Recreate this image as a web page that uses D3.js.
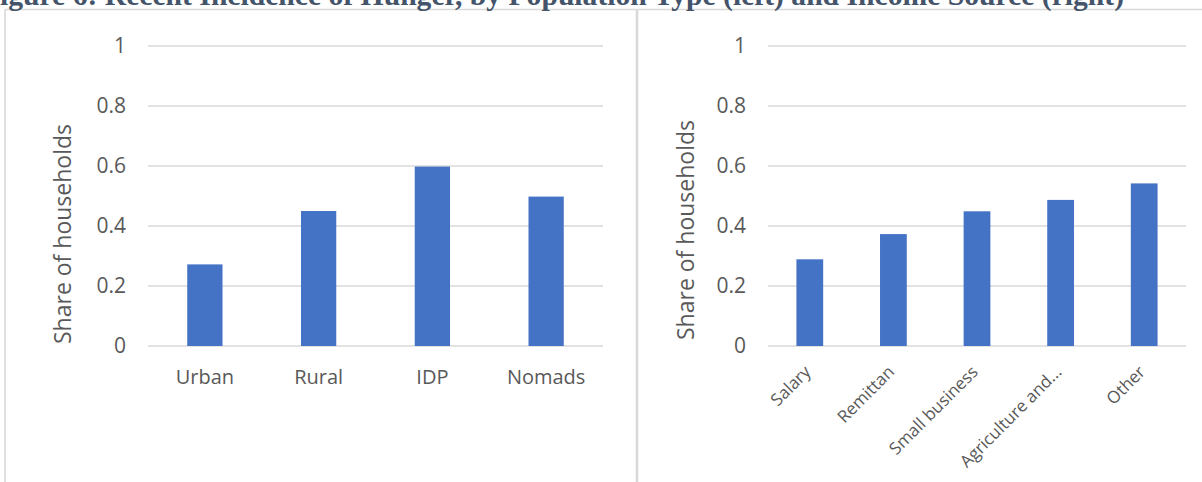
<!DOCTYPE html>
<html>
<head>
<meta charset="utf-8">
<script src="https://cdn.jsdelivr.net/npm/d3@7"></script>
<style>
  html, body { margin: 0; padding: 0; background: #ffffff; overflow: hidden; }
  svg { display: block; }
  text { font-family: "Open Sans", "Noto Sans", sans-serif; fill: #595959; }
</style>
</head>
<body>
<svg id="chart" width="1202" height="482"></svg>
<script>
// Title text
const titleText = "Figure 6: Recent Incidence of Hunger, by Population Type (left) and Income Source (right)";

// Left panel: population type
const popCategories = ["Urban", "Rural", "IDP", "Nomads"];
const popValues = [0.272, 0.45, 0.598, 0.498];

// Right panel: income source
const incomeCategories = ["Salary", "Remittan", "Small business", "Agriculture and...", "Other"];
const incomeValues = [0.289, 0.373, 0.449, 0.487, 0.542];

// Shared y axis ticks
const yTicks = [0, 0.2, 0.4, 0.6, 0.8, 1];
const yTickLabels = ["0", "0.2", "0.4", "0.6", "0.8", "1"];
const yAxisTitle = "Share of households";

const svg = d3.select("#chart");
const BAR = "#4472C4";
const GRID = "#d9d9d9";
const FRAME = "#d9d9d9";

// Frames around the two chart boxes
svg.append("line").attr("x1", 5).attr("x2", 1202).attr("y1", 9.5).attr("y2", 9.5)
  .attr("stroke", FRAME).attr("stroke-width", 1.6);
svg.append("line").attr("x1", 5).attr("x2", 5).attr("y1", 9.5).attr("y2", 482)
  .attr("stroke", FRAME).attr("stroke-width", 1.6);
svg.append("line").attr("x1", 637).attr("x2", 637).attr("y1", 9.5).attr("y2", 482)
  .attr("stroke", FRAME).attr("stroke-width", 2.6);

// Title, running off the left edge of the page
const title = svg.append("text")
  .attr("y", 5)
  .style("font-family", "'Liberation Serif', 'DejaVu Serif', serif")
  .style("font-weight", "bold")
  .style("fill", "#44546A")
  .style("font-size", "20px")
  .text(titleText);
const fullW = title.node().getComputedTextLength();
const probe = svg.append("text")
  .style("font-family", "'Liberation Serif', 'DejaVu Serif', serif")
  .style("font-weight", "bold").style("font-size", "20px").text("F");
const fW = probe.node().getComputedTextLength();
probe.remove();
const scaleF = 1125 / (fullW - fW);
title.style("font-size", (20 * scaleF) + "px").attr("x", -fW * scaleF);

function drawPanel(opts) {
  const g = svg.append("g");
  const x = d3.scaleBand().domain(opts.categories).range([opts.x0, opts.x1])
    .paddingInner(opts.pad).paddingOuter(opts.pad / 2);
  const y = d3.scaleLinear().domain([0, 1]).range([346, 46]);

  // Gridlines
  g.append("g").selectAll("line").data(yTicks).join("line")
    .attr("x1", opts.x0).attr("x2", opts.x1)
    .attr("y1", d => y(d)).attr("y2", d => y(d))
    .attr("stroke", GRID).attr("stroke-width", 1.5);

  // Y axis tick labels
  const yAxis = d3.axisLeft(y).tickValues(yTicks)
    .tickFormat((d, i) => yTickLabels[i]).tickSize(0).tickPadding(0);
  const ya = g.append("g").attr("transform", `translate(${opts.labelX},0)`).call(yAxis);
  ya.select(".domain").remove();
  ya.selectAll("text").style("font-family", "'Open Sans', sans-serif")
    .style("font-size", "21px").style("fill", "#595959");

  // Bars
  g.append("g").selectAll("rect").data(opts.values).join("rect")
    .attr("x", (d, i) => x(opts.categories[i]))
    .attr("width", x.bandwidth())
    .attr("y", d => y(d))
    .attr("height", d => y(0) - y(d))
    .attr("fill", BAR);

  // X axis labels
  const xAxis = d3.axisBottom(x).tickSize(0).tickPadding(0);
  const xa = g.append("g").attr("transform", `translate(0,${opts.xLabelY})`).call(xAxis);
  xa.select(".domain").remove();
  xa.selectAll("text").style("font-family", "'Open Sans', sans-serif")
    .style("font-size", opts.labelSize).style("fill", "#595959");
  if (opts.rotate) {
    xa.selectAll("text")
      .attr("y", 0).attr("dy", "0")
      .attr("text-anchor", "end")
      .attr("transform", "translate(2,0) rotate(-45)");
  } else {
    xa.selectAll("text").attr("y", 0).attr("dy", "0");
  }

  // Y axis title
  g.append("text")
    .attr("transform", `translate(${opts.titleX},${opts.titleY}) rotate(-90)`)
    .attr("text-anchor", "middle").attr("dy", "0.35em")
    .style("font-size", "23px")
    .text(yAxisTitle);
}

drawPanel({
  categories: popCategories, values: popValues,
  x0: 148, x1: 603, pad: 0.69, labelX: 126,
  xLabelY: 384, rotate: false, labelSize: "20px", titleX: 63, titleY: 234
});

drawPanel({
  categories: incomeCategories, values: incomeValues,
  x0: 768, x1: 1186, pad: 0.68, labelX: 746,
  xLabelY: 373, rotate: true, labelSize: "17px", titleX: 686, titleY: 230
});
</script>
</body>
</html>
